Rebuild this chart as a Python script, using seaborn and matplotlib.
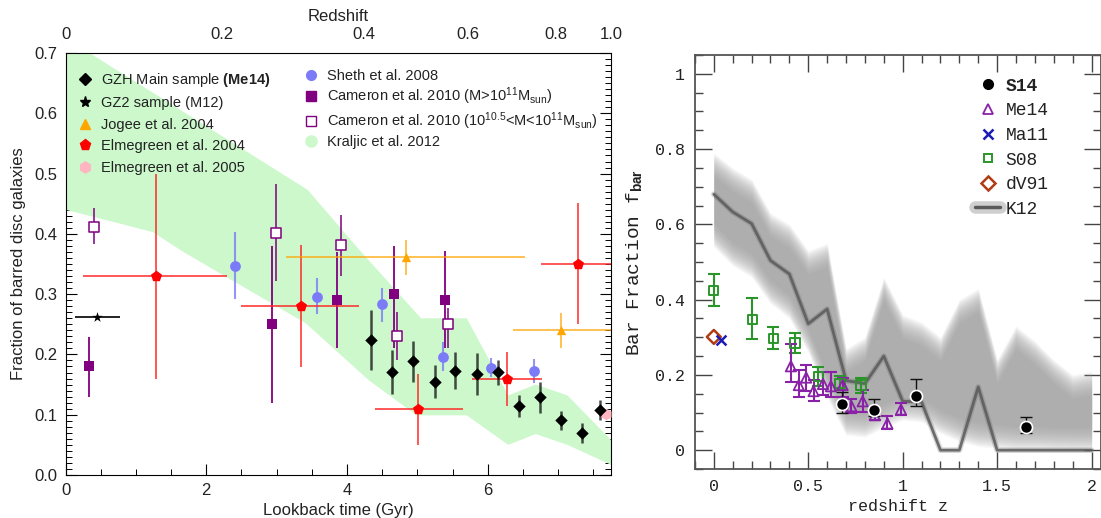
import numpy as np
import matplotlib
matplotlib.use("Agg")
import matplotlib.pyplot as plt
import seaborn as sns
from matplotlib.lines import Line2D
from matplotlib.ticker import MultipleLocator

sns.set_theme(style="ticks")
plt.rcParams["font.family"] = ["Liberation Sans", "DejaVu Sans"]
plt.rcParams["mathtext.fontset"] = "custom"
plt.rcParams["mathtext.rm"] = "Liberation Sans"
plt.rcParams["mathtext.bf"] = "Liberation Sans:bold"
plt.rcParams["mathtext.it"] = "Liberation Sans:italic"

# ---------------- left panel data (lookback time, Gyr) ----------------
gzh_t = [4.34, 4.64, 4.94, 5.25, 5.54, 5.84, 6.14, 6.44, 6.74, 7.04, 7.34, 7.60]
gzh_f = [0.224, 0.171, 0.189, 0.155, 0.173, 0.168, 0.171, 0.115, 0.129, 0.091, 0.070, 0.108]
gzh_lo = [0.174, 0.135, 0.154, 0.127, 0.142, 0.133, 0.150, 0.096, 0.103, 0.075, 0.053, 0.091]
gzh_hi = [0.274, 0.207, 0.222, 0.182, 0.204, 0.202, 0.190, 0.132, 0.154, 0.106, 0.086, 0.125]

gz2_t = [0.45]
gz2_f = [0.262]
gz2_tlo = [0.13]
gz2_thi = [0.77]

jog_t = [4.83, 7.04]
jog_f = [0.361, 0.241]
jog_tlo = [3.13, 6.35]
jog_thi = [6.53, 7.80]
jog_lo = [0.331, 0.210]
jog_hi = [0.390, 0.269]

elm04_t = [1.28, 3.34, 5.01, 6.27, 7.28]
elm04_f = [0.330, 0.281, 0.109, 0.160, 0.350]
elm04_tlo = [0.25, 2.49, 4.39, 5.77, 6.76]
elm04_thi = [2.30, 4.17, 5.64, 6.77, 7.80]
elm04_lo = [0.160, 0.179, 0.050, 0.114, 0.250]
elm04_hi = [0.500, 0.381, 0.168, 0.204, 0.451]

elm05_t = [7.68]
elm05_f = [0.102]

sheth_t = [2.41, 3.57, 4.50, 5.36, 6.05, 6.66]
sheth_f = [0.346, 0.296, 0.283, 0.196, 0.178, 0.173]
sheth_lo = [0.292, 0.267, 0.254, 0.172, 0.163, 0.153]
sheth_hi = [0.403, 0.326, 0.311, 0.221, 0.194, 0.192]

camH_t = [0.34, 2.94, 3.86, 4.67, 5.39]
camH_f = [0.180, 0.250, 0.290, 0.300, 0.290]
camH_lo = [0.129, 0.120, 0.210, 0.210, 0.210]
camH_hi = [0.229, 0.380, 0.370, 0.380, 0.372]

camL_t = [0.40, 2.99, 3.91, 4.71, 5.43]
camL_f = [0.412, 0.402, 0.382, 0.230, 0.250]
camL_lo = [0.383, 0.321, 0.330, 0.190, 0.210]
camL_hi = [0.443, 0.483, 0.431, 0.270, 0.277]

kr_up_t = [0.0, 3.44, 4.20, 5.05, 5.70, 6.29, 6.68, 7.13, 7.75]
kr_up_f = [0.725, 0.473, 0.370, 0.260, 0.260, 0.132, 0.150, 0.132, 0.058]
kr_lo_t = [0.0, 1.24, 1.66, 3.41, 4.31, 4.99, 5.70, 6.29, 6.68, 7.13, 7.75]
kr_lo_f = [0.440, 0.403, 0.371, 0.252, 0.157, 0.099, 0.099, 0.050, 0.068, 0.050, 0.017]

z_labels = ["0", "0.2", "0.4", "0.6", "0.8", "1.0"]
z_label_t = [0.0, 2.22, 4.24, 5.72, 6.96, 7.75]

# ---------------- right panel data (redshift) ----------------
s14_z = [0.680, 0.848, 1.072, 1.655]
s14_f = [0.122, 0.106, 0.145, 0.061]
s14_lo = [0.099, 0.090, 0.118, 0.046]
s14_hi = [0.155, 0.136, 0.188, 0.088]

me14_z = [0.408, 0.450, 0.489, 0.528, 0.578, 0.620, 0.682, 0.728, 0.788, 0.852, 0.919, 0.991]
me14_f = [0.223, 0.173, 0.193, 0.157, 0.176, 0.170, 0.173, 0.117, 0.130, 0.093, 0.071, 0.108]
me14_lo = [0.180, 0.142, 0.158, 0.131, 0.146, 0.140, 0.142, 0.100, 0.102, 0.081, 0.057, 0.093]
me14_hi = [0.281, 0.214, 0.227, 0.186, 0.209, 0.207, 0.193, 0.136, 0.159, 0.101, 0.090, 0.126]

ma11_z = [0.037]
ma11_f = [0.294]

s08_z = [0.000, 0.203, 0.315, 0.430, 0.553, 0.668, 0.780]
s08_f = [0.425, 0.347, 0.296, 0.285, 0.196, 0.177, 0.173]
s08_lo = [0.382, 0.296, 0.268, 0.257, 0.170, 0.159, 0.153]
s08_hi = [0.468, 0.404, 0.327, 0.312, 0.221, 0.196, 0.193]

dv91_z = [0.0]
dv91_f = [0.301]

k12_z = [0.0, 0.1, 0.2, 0.3, 0.4, 0.5, 0.6, 0.7, 0.8, 0.9, 1.0,
         1.1, 1.2, 1.3, 1.4, 1.5, 1.6, 1.7, 1.8, 1.9, 2.0]
k12_f = [0.680, 0.633, 0.602, 0.504, 0.468, 0.336, 0.375, 0.185, 0.177, 0.250, 0.130,
         0.128, 0.000, 0.000, 0.168, 0.000, 0.000, 0.000, 0.000, 0.000, 0.000]
k12_up = [0.760, 0.720, 0.690, 0.600, 0.570, 0.500, 0.520, 0.240, 0.270, 0.430, 0.330,
          0.310, 0.270, 0.370, 0.400, 0.210, 0.300, 0.260, 0.210, 0.170, 0.180]
k12_lo = [0.570, 0.520, 0.490, 0.420, 0.380, 0.290, 0.170, 0.070, 0.065, 0.090, 0.110,
          0.105, 0.075, 0.053, 0.040, 0.035, 0.030, 0.030, 0.028, 0.027, 0.027]


def asym(v, lo, hi):
    v, lo, hi = np.asarray(v), np.asarray(lo), np.asarray(hi)
    return [v - lo, hi - v]


fig = plt.figure(figsize=(11.01, 5.18), dpi=100)

# ======================= LEFT PANEL =======================
axL = fig.add_axes([0.0595, 0.083, 0.4955, 0.8147])
axL.set_facecolor("white")
axL.set_xlim(0, 7.75)
axL.set_ylim(0, 0.7)

green = "#ccf8cc"
axL.fill(np.concatenate([kr_up_t, kr_lo_t[::-1]]),
         np.concatenate([kr_up_f, kr_lo_f[::-1]]),
         color=green, lw=0, zorder=1)

# error bars
axL.errorbar(camH_t, camH_f, yerr=asym(camH_f, camH_lo, camH_hi), fmt="none",
             ecolor="#800080", lw=1.3, zorder=3)
axL.errorbar(camL_t, camL_f, yerr=asym(camL_f, camL_lo, camL_hi), fmt="none",
             ecolor="#800080", lw=1.3, alpha=0.85, zorder=3)
axL.errorbar(sheth_t, sheth_f, yerr=asym(sheth_f, sheth_lo, sheth_hi), fmt="none",
             ecolor="#7b7bf7", lw=1.5, alpha=0.8, zorder=3)
axL.errorbar(elm04_t, elm04_f, yerr=asym(elm04_f, elm04_lo, elm04_hi),
             xerr=asym(elm04_t, elm04_tlo, elm04_thi), fmt="none",
             ecolor="#ff2020", lw=1.4, alpha=0.75, zorder=3)
axL.errorbar(jog_t, jog_f, yerr=asym(jog_f, jog_lo, jog_hi),
             xerr=asym(jog_t, jog_tlo, jog_thi), fmt="none",
             ecolor="#ffa500", lw=1.2, alpha=0.8, zorder=3)
axL.errorbar(gz2_t, gz2_f, xerr=asym(gz2_t, gz2_tlo, gz2_thi), fmt="none",
             ecolor="black", lw=1.2, zorder=3)
axL.errorbar(gzh_t, gzh_f, yerr=asym(gzh_f, gzh_lo, gzh_hi), fmt="none",
             ecolor="black", lw=1.8, alpha=0.7, zorder=3)

# markers
sns.scatterplot(x=camH_t, y=camH_f, marker="s", color="#800080", s=52, linewidth=0, ax=axL, zorder=5)
axL.scatter(camL_t, camL_f, marker="s", facecolors="white", edgecolors="#800080",
            s=50, linewidths=1.1, zorder=5)
sns.scatterplot(x=sheth_t, y=sheth_f, marker="o", color="#7b7bf7", s=60, linewidth=0, ax=axL, zorder=5)
sns.scatterplot(x=elm04_t, y=elm04_f, marker="p", color="#ff0000", s=70, linewidth=0, ax=axL, zorder=5)
sns.scatterplot(x=elm05_t, y=elm05_f, marker="h", color="#ffb6c1", s=70, linewidth=0, ax=axL, zorder=5)
sns.scatterplot(x=jog_t, y=jog_f, marker="^", color="#ffa500", s=45, linewidth=0, ax=axL, zorder=5)
sns.scatterplot(x=gz2_t, y=gz2_f, marker="*", color="black", s=60, linewidth=0, ax=axL, zorder=5)
sns.scatterplot(x=gzh_t, y=gzh_f, marker="D", color="black", s=40, linewidth=0, ax=axL, zorder=6)

axL.xaxis.set_major_locator(MultipleLocator(2))
axL.xaxis.set_minor_locator(MultipleLocator(0.5))
axL.yaxis.set_major_locator(MultipleLocator(0.1))
axL.yaxis.set_minor_locator(MultipleLocator(0.01))
axL.tick_params(which="both", direction="in", top=True, right=True,
                labelsize=12, colors="black")
axL.tick_params(which="major", length=8, width=0.8, pad=6)
axL.tick_params(which="minor", length=4, width=0.7)
axL.tick_params(axis="x", labelcolor="#222222")
axL.tick_params(axis="y", labelcolor="#222222")
for sp in axL.spines.values():
    sp.set_color("black")
    sp.set_linewidth(0.8)
axL.set_xlabel("Lookback time (Gyr)", fontsize=12, color="#222222", labelpad=3)
axL.set_ylabel("Fraction of barred disc galaxies", fontsize=12, color="#222222", labelpad=6)

axT = axL.twiny()
axT.set_xlim(axL.get_xlim())
axT.set_xticks(z_label_t)
axT.set_xticklabels(z_labels)
axT.tick_params(axis="x", which="both", length=0, labelsize=12, pad=8, colors="#222222")
axT.set_xlabel("Redshift", fontsize=12, color="#222222", labelpad=4)
for sp in axT.spines.values():
    sp.set_visible(False)

h1 = [
    Line2D([], [], ls="none", marker="D", color="black", ms=6),
    Line2D([], [], ls="none", marker="*", color="black", ms=8),
    Line2D([], [], ls="none", marker="^", color="#ffa500", ms=7),
    Line2D([], [], ls="none", marker="p", color="#ff0000", ms=8),
    Line2D([], [], ls="none", marker="h", color="#ffb6c1", ms=8),
]
l1 = [r"GZH Main sample $\mathbf{(Me14)}$", "GZ2 sample (M12)", "Jogee et al. 2004",
      "Elmegreen et al. 2004", "Elmegreen et al. 2005"]
leg1 = axL.legend(h1, l1, loc="upper left", bbox_to_anchor=(0.022, 0.958), frameon=False,
                  fontsize=10.5, handlelength=1.0, handletextpad=0.6, labelspacing=0.52,
                  borderpad=0, borderaxespad=0)
for t in leg1.get_texts():
    t.set_color("#222222")
axL.add_artist(leg1)

h2 = [
    Line2D([], [], ls="none", marker="o", color="#7b7bf7", ms=7),
    Line2D([], [], ls="none", marker="s", color="#800080", ms=7),
    Line2D([], [], ls="none", marker="s", markerfacecolor="white", markeredgecolor="#800080", ms=7),
    Line2D([], [], ls="none", marker="o", color="#ccf8cc", ms=8),
]
l2 = ["Sheth et al. 2008", r"Cameron et al. 2010 (M>10$^{11}$M$_{\mathrm{sun}}$)",
      r"Cameron et al. 2010 (10$^{10.5}$<M<10$^{11}$M$_{\mathrm{sun}}$)", "Kraljic et al. 2012"]
leg2 = axL.legend(h2, l2, loc="upper left", bbox_to_anchor=(0.437, 0.963), frameon=False,
                  fontsize=10.5, handlelength=1.0, handletextpad=0.6, labelspacing=0.22,
                  borderpad=0, borderaxespad=0)
for t in leg2.get_texts():
    t.set_color("#222222")

# ======================= RIGHT PANEL =======================
mono = ["Liberation Mono", "DejaVu Sans Mono"]
axR = fig.add_axes([0.6312, 0.0946, 0.3688, 0.7992])
axR.set_xlim(-0.1, 2.05)
axR.set_ylim(-0.05, 1.05)

zk = np.asarray(k12_z)
upk = np.asarray(k12_up)
lok = np.asarray(k12_lo)
for d in np.linspace(-0.03, 0.035, 22):
    top = np.maximum(upk - d, lok + d)
    axR.fill_between(zk, lok + d, top, color="#a2a2a2", alpha=0.075, lw=0, zorder=1)
sns.lineplot(x=k12_z, y=k12_f, color="#5a5a5a", lw=4, alpha=0.25, ax=axR, zorder=2)
sns.lineplot(x=k12_z, y=k12_f, color="#5a5a5a", lw=2.0, alpha=0.85, ax=axR, zorder=2)

axR.errorbar(s08_z, s08_f, yerr=asym(s08_f, s08_lo, s08_hi), fmt="none",
             ecolor="#2a962a", lw=1.5, capsize=4.5, capthick=1.5, zorder=3)
axR.scatter(s08_z, s08_f, marker="s", facecolors="none", edgecolors="#2a962a",
            s=45, linewidths=1.4, zorder=4)
axR.errorbar(me14_z, me14_f, yerr=asym(me14_f, me14_lo, me14_hi), fmt="none",
             ecolor="#8a22a8", lw=1.5, capsize=4.5, capthick=1.5, zorder=3)
axR.scatter(me14_z, me14_f, marker="^", facecolors="none", edgecolors="#8a22a8",
            s=55, linewidths=1.3, zorder=4)
axR.errorbar(s14_z, s14_f, yerr=asym(s14_f, s14_lo, s14_hi), fmt="none",
             ecolor="#111111", lw=1.0, capsize=4.5, capthick=1.0, zorder=5)
sns.scatterplot(x=s14_z, y=s14_f, marker="o", color="black", s=75,
                edgecolor="white", linewidth=1.2, ax=axR, zorder=6)
axR.scatter(dv91_z, dv91_f, marker="D", facecolors="none", edgecolors="#b03c14",
            s=50, linewidths=1.8, zorder=4)
axR.scatter(ma11_z, ma11_f, marker="x", color="#1c1cb4", s=50, linewidths=1.8, zorder=4)

axR.set_xticks([0, 0.5, 1, 1.5, 2])
axR.set_xticklabels(["0", "0.5", "1", "1.5", "2"])
axR.set_yticks([0, 0.2, 0.4, 0.6, 0.8, 1.0])
axR.set_yticklabels(["0", "0.2", "0.4", "0.6", "0.8", "1"])
axR.xaxis.set_minor_locator(MultipleLocator(0.1))
axR.yaxis.set_minor_locator(MultipleLocator(0.05))
axR.tick_params(which="both", direction="in", top=True, right=True, colors="#444444")
axR.tick_params(which="major", length=12, width=1.0, pad=7, labelsize=12, labelcolor="#222222")
axR.tick_params(which="minor", length=6, width=1.0)
for lab in axR.get_xticklabels() + axR.get_yticklabels():
    lab.set_fontfamily(mono)
for sp in axR.spines.values():
    sp.set_color("#555555")
    sp.set_linewidth(1.3)
axR.set_xlabel("redshift z", fontsize=12, family=mono, color="#222222", labelpad=4)
axR.set_ylabel(r"Bar Fraction f$_{\mathbf{bar}}$", fontsize=14, family=mono,
               color="#222222", labelpad=8)

hR = [
    Line2D([], [], ls="none", marker="o", color="black", ms=7),
    Line2D([], [], ls="none", marker="^", markerfacecolor="none", markeredgecolor="#8a22a8", ms=7, mew=1.3),
    Line2D([], [], ls="none", marker="x", color="#1c1cb4", ms=7, mew=1.8),
    Line2D([], [], ls="none", marker="s", markerfacecolor="none", markeredgecolor="#2a962a", ms=6, mew=1.4),
    Line2D([], [], ls="none", marker="D", markerfacecolor="none", markeredgecolor="#b03c14", ms=7, mew=1.8),
    (Line2D([], [], color="#b0b0b0", lw=9, alpha=0.6), Line2D([], [], color="#5a5a5a", lw=2.5)),
]
lR = ["S14", "Me14", "Ma11", "S08", "dV91", "K12"]
legR = axR.legend(hR, lR, loc="upper left", bbox_to_anchor=(0.69, 0.945), frameon=False,
                  prop={"family": mono, "size": 13}, handlelength=1.4, handletextpad=0.3,
                  labelspacing=0.42, borderpad=0, borderaxespad=0)
for t in legR.get_texts():
    t.set_color("#222222")
legR.get_texts()[0].set_fontweight("bold")

fig.savefig("out.png", dpi=100)
